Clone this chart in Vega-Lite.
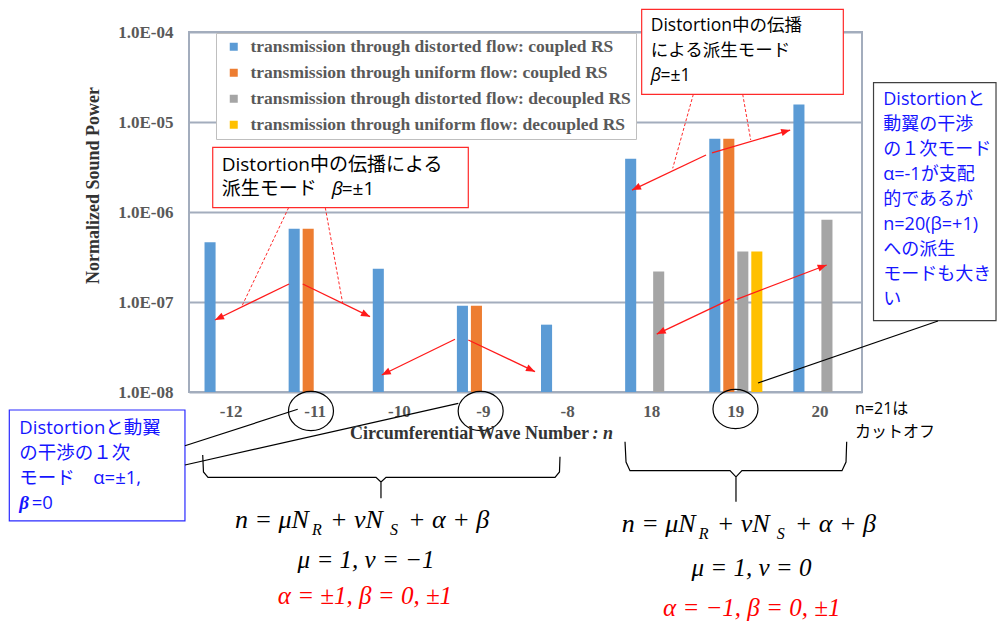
{
  "$schema": "https://vega.github.io/schema/vega-lite/v6.json",
  "width": 673,
  "height": 360,
  "autosize": {"type": "none"},
  "padding": {"left": 189, "top": 32, "right": 135, "bottom": 229},
  "background": "white",
  "config": {
    "view": {"stroke": "#a3adbd", "strokeWidth": 2},
    "font": "Liberation Sans"
  },
  "datasets": {
    "bars": [
      {"n": "-12", "series": "transmission through distorted flow: coupled RS", "value": 4.6e-7},
      {"n": "-11", "series": "transmission through distorted flow: coupled RS", "value": 6.5e-7},
      {"n": "-11", "series": "transmission through uniform flow: coupled RS", "value": 6.5e-7},
      {"n": "-10", "series": "transmission through distorted flow: coupled RS", "value": 2.34e-7},
      {"n": "-9", "series": "transmission through distorted flow: coupled RS", "value": 9.1e-8},
      {"n": "-9", "series": "transmission through uniform flow: coupled RS", "value": 9.1e-8},
      {"n": "-8", "series": "transmission through distorted flow: coupled RS", "value": 5.6e-8},
      {"n": "18", "series": "transmission through distorted flow: coupled RS", "value": 3.9e-6},
      {"n": "18", "series": "transmission through distorted flow: decoupled RS", "value": 2.18e-7},
      {"n": "19", "series": "transmission through distorted flow: coupled RS", "value": 6.5e-6},
      {"n": "19", "series": "transmission through uniform flow: coupled RS", "value": 6.5e-6},
      {"n": "19", "series": "transmission through distorted flow: decoupled RS", "value": 3.65e-7},
      {"n": "19", "series": "transmission through uniform flow: decoupled RS", "value": 3.65e-7},
      {"n": "20", "series": "transmission through distorted flow: coupled RS", "value": 1.56e-5},
      {"n": "20", "series": "transmission through distorted flow: decoupled RS", "value": 8.2e-7}
    ],
    "redBoxes": [
      {"x": 0.282, "x2": 3.320, "y": -5.281, "y2": -5.952},
      {"x": 5.381, "x2": 7.778, "y": -3.748, "y2": -4.692}
    ],
    "blueBox": [
      {"x": -2.136, "x2": -0.048, "y": -8.2, "y2": -9.433}
    ],
    "grayBox": [
      {"x": 8.137, "x2": 9.593, "y": -4.563, "y2": -7.208}
    ],
    "box1Text": [
      {"x": 0.389, "y": -5.478, "t": "Distortion中の伝播による"},
      {"x": 0.389, "y": -5.744, "t": "派生モード"},
      {"x": 1.815, "y": -5.744, "t": "=±1"}
    ],
    "box1Beta": [
      {"x": 1.696, "y": -5.744, "t": "β"}
    ],
    "box2Text": [
      {"x": 5.488, "y": -3.928, "t": "Distortion中の伝播"},
      {"x": 5.488, "y": -4.206, "t": "による派生モード"},
      {"x": 5.605, "y": -4.494, "t": "=±1"}
    ],
    "box2Beta": [
      {"x": 5.488, "y": -4.494, "t": "β"}
    ],
    "blueTextR": [
      {"x": 8.253, "y": -4.756, "t": "Distortionと"},
      {"x": 8.253, "y": -5.033, "t": "動翼の干渉"},
      {"x": 8.253, "y": -5.311, "t": "の１次モード"},
      {"x": 8.253, "y": -5.589, "t": "α=-1が支配"},
      {"x": 8.253, "y": -5.867, "t": "的であるが"},
      {"x": 8.253, "y": -6.144, "t": "n=20(β=+1)"},
      {"x": 8.253, "y": -6.422, "t": "への派生"},
      {"x": 8.253, "y": -6.7, "t": "モードも大き"},
      {"x": 8.253, "y": -6.978, "t": "い"}
    ],
    "blueTextL": [
      {"x": -2.017, "y": -8.403, "t": "Distortionと動翼"},
      {"x": -2.017, "y": -8.674, "t": "の干渉の１次"},
      {"x": -2.017, "y": -8.959, "t": "モード　α=±1,"},
      {"x": -1.870, "y": -9.237, "t": "=0"}
    ],
    "blueBeta": [
      {"x": -2.017, "y": -9.237, "t": "β"}
    ],
    "dashes": [
      {"x": 1.184, "y": -5.952, "ex": 0.626, "ey": -7.052},
      {"x": 1.620, "y": -5.952, "ex": 1.827, "ey": -7.014},
      {"x": 5.995, "y": -4.692, "ex": 5.750, "ey": -5.514},
      {"x": 6.582, "y": -4.692, "ex": 6.677, "ey": -5.2}
    ],
    "arrows": [
      {"x": 1.189, "y": -6.8, "ex": 0.309, "ey": -7.2},
      {"x": 1.352, "y": -6.8, "ex": 2.152, "ey": -7.163},
      {"x": 3.162, "y": -7.414, "ex": 2.291, "ey": -7.811},
      {"x": 3.320, "y": -7.422, "ex": 4.113, "ey": -7.774},
      {"x": 6.146, "y": -5.367, "ex": 5.266, "ey": -5.756},
      {"x": 6.217, "y": -5.344, "ex": 7.146, "ey": -5.089},
      {"x": 6.431, "y": -6.970, "ex": 5.560, "ey": -7.356},
      {"x": 6.510, "y": -6.970, "ex": 7.580, "ey": -6.589}
    ],
    "blackLines": [
      {"x": -0.048, "y": -8.597, "ex": 1.292, "ey": -8.192},
      {"x": -0.048, "y": -8.811, "ex": 3.201, "ey": -8.126},
      {"x": 6.764, "y": -7.9, "ex": 8.903, "ey": -7.211}
    ],
    "ellipses": [
      {"x": 1.450, "y": -8.211},
      {"x": 3.467, "y": -8.211},
      {"x": 6.496, "y": -8.189}
    ],
    "braces": [
      {"b": "L", "o": 1, "x": 0.163, "y": -8.7},
      {"b": "L", "o": 2, "x": 0.172, "y": -8.889},
      {"b": "L", "o": 3, "x": 0.226, "y": -8.948},
      {"b": "L", "o": 4, "x": 2.223, "y": -8.948},
      {"b": "L", "o": 5, "x": 2.282, "y": -9.0},
      {"b": "L", "o": 6, "x": 2.282, "y": -9.181},
      {"b": "L", "o": 7, "x": 2.282, "y": -9.0},
      {"b": "L", "o": 8, "x": 2.342, "y": -8.948},
      {"b": "L", "o": 9, "x": 4.351, "y": -8.948},
      {"b": "L", "o": 10, "x": 4.404, "y": -8.889},
      {"b": "L", "o": 11, "x": 4.410, "y": -8.719},
      {"b": "R", "o": 1, "x": 5.183, "y": -8.552},
      {"b": "R", "o": 2, "x": 5.195, "y": -8.778},
      {"b": "R", "o": 3, "x": 5.242, "y": -8.874},
      {"b": "R", "o": 4, "x": 6.431, "y": -8.874},
      {"b": "R", "o": 5, "x": 6.502, "y": -8.944},
      {"b": "R", "o": 6, "x": 6.502, "y": -9.219},
      {"b": "R", "o": 7, "x": 6.502, "y": -8.944},
      {"b": "R", "o": 8, "x": 6.573, "y": -8.874},
      {"b": "R", "o": 9, "x": 7.762, "y": -8.874},
      {"b": "R", "o": 10, "x": 7.810, "y": -8.778},
      {"b": "R", "o": 11, "x": 7.818, "y": -8.552}
    ],
    "cutoff": [
      {"x": 7.917, "y": -8.189, "t": "n=21は"},
      {"x": 7.917, "y": -8.441, "t": "カットオフ"}
    ],
    "xTitle": [
      {"x": 1.914, "y": -8.467, "t": "Circumferential Wave Number"}
    ],
    "xTitleN": [
      {"x": 5.040, "y": -8.467, "t": ": n"}
    ],
    "formulaMain": [
      {"x": 0.547, "y": -9.422, "t": "n = μN"},
      {"x": 1.676, "y": -9.422, "t": "+ νN"},
      {"x": 2.603, "y": -9.422, "t": "+ α + β"},
      {"x": 5.143, "y": -9.465, "t": "n = μN"},
      {"x": 6.273, "y": -9.465, "t": "+ νN"},
      {"x": 7.2, "y": -9.465, "t": "+ α + β"}
    ],
    "formulaSub": [
      {"x": 1.462, "y": -9.53, "t": "R"},
      {"x": 2.389, "y": -9.53, "t": "S"},
      {"x": 6.059, "y": -9.575, "t": "R"},
      {"x": 6.986, "y": -9.575, "t": "S"}
    ],
    "formulaBlack": [
      {"x": 2.104, "y": -9.867, "t": "μ = 1, ν = −1"},
      {"x": 6.686, "y": -9.956, "t": "μ = 1, ν = 0"}
    ],
    "formulaRed": [
      {"x": 2.092, "y": -10.267, "t": "α = ±1, β = 0, ±1"},
      {"x": 6.689, "y": -10.4, "t": "α = −1, β = 0, ±1"}
    ]
  },
  "layer": [
    {
      "data": {"name": "bars"},
      "mark": {"type": "bar"},
      "encoding": {
        "x": {
          "field": "n", "type": "ordinal",
          "sort": ["-12", "-11", "-10", "-9", "-8", "18", "19", "20"],
          "scale": {"paddingInner": 0.334, "paddingOuter": 0.167},
          "axis": {
            "title": null, "domain": false, "ticks": false, "labelAngle": 0,
            "labelFont": "Liberation Serif", "labelFontWeight": "bold", "labelFontSize": 17,
            "labelColor": "#595959", "labelPadding": 11
          }
        },
        "xOffset": {
          "field": "series", "type": "nominal",
          "sort": ["transmission through distorted flow: coupled RS", "transmission through uniform flow: coupled RS", "transmission through distorted flow: decoupled RS", "transmission through uniform flow: decoupled RS"],
          "scale": {"paddingInner": 0.21, "paddingOuter": 0.105}
        },
        "y": {
          "field": "value", "type": "quantitative",
          "scale": {"type": "log", "domain": [1e-8, 1e-4], "nice": false},
          "axis": {
            "title": "Normalized Sound Power",
            "values": [1e-8, 1e-7, 1e-6, 1e-5, 1e-4],
            "labelExpr": "'1.0E-0' + (-round(log(datum.value)/LN10))",
            "domain": false, "ticks": false,
            "grid": true, "gridColor": "#a3adbd", "gridWidth": 2,
            "labelFont": "Liberation Serif", "labelFontWeight": "bold", "labelFontSize": 17,
            "labelColor": "#595959", "labelPadding": 16,
            "titleFont": "Liberation Serif", "titleFontWeight": "bold", "titleFontSize": 18,
            "titleColor": "#333333", "titleX": -96, "titleY": 153, "titleAngle": -90,
            "titleAlign": "center", "titleBaseline": "middle"
          }
        },
        "y2": {"datum": 1e-8},
        "color": {
          "field": "series", "type": "nominal",
          "sort": ["transmission through distorted flow: coupled RS", "transmission through uniform flow: coupled RS", "transmission through distorted flow: decoupled RS", "transmission through uniform flow: decoupled RS"],
          "scale": {"range": ["#5b9bd5", "#ed7d31", "#a5a5a5", "#ffc000"]},
          "legend": {
            "title": null, "orient": "none", "legendX": 27, "legendY": 1,
            "direction": "vertical",
            "fillColor": "white", "strokeColor": "#bfbfbf", "padding": 5,
            "symbolType": "square", "symbolSize": 64, "symbolStrokeWidth": 0, "symbolOffset": 4,
            "labelFont": "Liberation Serif", "labelFontWeight": "bold", "labelFontSize": 17.5,
            "labelColor": "#595959", "labelLimit": 600, "labelOffset": 8, "rowPadding": 7
          }
        }
      }
    },
    {
      "encoding": {
        "x": {"field": "x", "type": "quantitative", "scale": {"domain": [0, 8], "nice": false, "zero": false}, "axis": null},
        "y": {"field": "y", "type": "quantitative", "scale": {"domain": [-8, -4], "nice": false, "zero": false}, "axis": null}
      },
      "layer": [
        {
          "data": {"name": "redBoxes"},
          "mark": {"type": "rect", "fill": "white", "stroke": "#ff2a2a", "strokeWidth": 1.2},
          "encoding": {"x2": {"field": "x2"}, "y2": {"field": "y2"}}
        },
        {
          "data": {"name": "blueBox"},
          "mark": {"type": "rect", "fill": "white", "stroke": "#2a2aff", "strokeWidth": 1.2},
          "encoding": {"x2": {"field": "x2"}, "y2": {"field": "y2"}}
        },
        {
          "data": {"name": "grayBox"},
          "mark": {"type": "rect", "fill": "white", "stroke": "#404040", "strokeWidth": 1.2},
          "encoding": {"x2": {"field": "x2"}, "y2": {"field": "y2"}}
        },
        {
          "data": {"name": "box1Text"},
          "mark": {"type": "text", "align": "left", "baseline": "middle", "font": "Open Sans, Noto Sans CJK JP", "fontSize": 19, "color": "black"},
          "encoding": {"text": {"field": "t"}}
        },
        {
          "data": {"name": "box1Beta"},
          "mark": {"type": "text", "align": "left", "baseline": "middle", "font": "Open Sans, Noto Sans CJK JP", "fontSize": 19, "fontStyle": "italic", "color": "black"},
          "encoding": {"text": {"field": "t"}}
        },
        {
          "data": {"name": "box2Text"},
          "mark": {"type": "text", "align": "left", "baseline": "middle", "font": "Open Sans, Noto Sans CJK JP", "fontSize": 17.5, "color": "black"},
          "encoding": {"text": {"field": "t"}}
        },
        {
          "data": {"name": "box2Beta"},
          "mark": {"type": "text", "align": "left", "baseline": "middle", "font": "Open Sans, Noto Sans CJK JP", "fontSize": 17.5, "fontStyle": "italic", "color": "black"},
          "encoding": {"text": {"field": "t"}}
        },
        {
          "data": {"name": "blueTextR"},
          "mark": {"type": "text", "align": "left", "baseline": "middle", "font": "Open Sans, Noto Sans CJK JP", "fontSize": 18, "color": "#1515ff"},
          "encoding": {"text": {"field": "t"}}
        },
        {
          "data": {"name": "blueTextL"},
          "mark": {"type": "text", "align": "left", "baseline": "middle", "font": "Open Sans, Noto Sans CJK JP", "fontSize": 18.5, "color": "#1515ff"},
          "encoding": {"text": {"field": "t"}}
        },
        {
          "data": {"name": "blueBeta"},
          "mark": {"type": "text", "align": "left", "baseline": "middle", "font": "Liberation Serif", "fontSize": 19, "fontStyle": "italic", "fontWeight": "bold", "color": "#1515ff"},
          "encoding": {"text": {"field": "t"}}
        },
        {
          "data": {"name": "dashes"},
          "mark": {"type": "rule", "color": "#ff2a2a", "strokeWidth": 1, "strokeDash": [3, 2]},
          "encoding": {"x2": {"field": "ex"}, "y2": {"field": "ey"}}
        },
        {
          "data": {"name": "arrows"},
          "mark": {"type": "rule", "color": "#ff1a1a", "strokeWidth": 1.3},
          "encoding": {"x2": {"field": "ex"}, "y2": {"field": "ey"}}
        },
        {
          "data": {"name": "arrows"},
          "transform": [
            {"calculate": "atan2((datum.ex - datum.x) * 84.125, (datum.ey - datum.y) * 90) * 180 / PI", "as": "ang"}
          ],
          "mark": {"type": "point", "shape": "M0,0L-0.8,2L0.8,2Z", "size": 81, "filled": true, "fill": "#ff1a1a", "strokeWidth": 0, "opacity": 1},
          "encoding": {
            "x": {"field": "ex", "type": "quantitative", "scale": {"domain": [0, 8], "nice": false, "zero": false}, "axis": null},
            "y": {"field": "ey", "type": "quantitative", "scale": {"domain": [-8, -4], "nice": false, "zero": false}, "axis": null},
            "angle": {"field": "ang", "type": "quantitative", "scale": null}
          }
        },
        {
          "data": {"name": "blackLines"},
          "mark": {"type": "rule", "color": "black", "strokeWidth": 1.2},
          "encoding": {"x2": {"field": "ex"}, "y2": {"field": "ey"}}
        },
        {
          "data": {"name": "ellipses"},
          "mark": {"type": "point", "shape": "M-1,0A1,0.87,0,1,0,1,0A1,0.87,0,1,0,-1,0Z", "size": 2025, "filled": false, "stroke": "black", "strokeWidth": 1.2, "opacity": 1},
          "encoding": {}
        },
        {
          "data": {"name": "braces"},
          "mark": {"type": "line", "color": "black", "strokeWidth": 1.2},
          "encoding": {"detail": {"field": "b"}, "order": {"field": "o"}}
        },
        {
          "data": {"name": "cutoff"},
          "mark": {"type": "text", "align": "left", "baseline": "middle", "font": "Open Sans, Noto Sans CJK JP", "fontSize": 16, "color": "black"},
          "encoding": {"text": {"field": "t"}}
        },
        {
          "data": {"name": "xTitle"},
          "mark": {"type": "text", "align": "left", "baseline": "middle", "font": "Liberation Serif", "fontSize": 18, "fontWeight": "bold", "color": "#333333"},
          "encoding": {"text": {"field": "t"}}
        },
        {
          "data": {"name": "xTitleN"},
          "mark": {"type": "text", "align": "right", "baseline": "middle", "font": "Liberation Serif", "fontSize": 18, "fontWeight": "bold", "fontStyle": "italic", "color": "#333333"},
          "encoding": {"text": {"field": "t"}}
        },
        {
          "data": {"name": "formulaMain"},
          "mark": {"type": "text", "align": "left", "baseline": "middle", "font": "Liberation Serif", "fontSize": 26, "fontStyle": "italic", "color": "black"},
          "encoding": {"text": {"field": "t"}}
        },
        {
          "data": {"name": "formulaSub"},
          "mark": {"type": "text", "align": "left", "baseline": "middle", "font": "Liberation Serif", "fontSize": 16, "fontStyle": "italic", "color": "black"},
          "encoding": {"text": {"field": "t"}}
        },
        {
          "data": {"name": "formulaBlack"},
          "mark": {"type": "text", "align": "center", "baseline": "middle", "font": "Liberation Serif", "fontSize": 25, "fontStyle": "italic", "color": "black"},
          "encoding": {"text": {"field": "t"}}
        },
        {
          "data": {"name": "formulaRed"},
          "mark": {"type": "text", "align": "center", "baseline": "middle", "font": "Liberation Serif", "fontSize": 25, "fontStyle": "italic", "color": "#ff0000"},
          "encoding": {"text": {"field": "t"}}
        }
      ]
    }
  ],
  "resolve": {"scale": {"x": "independent", "y": "independent", "xOffset": "independent"}}
}
